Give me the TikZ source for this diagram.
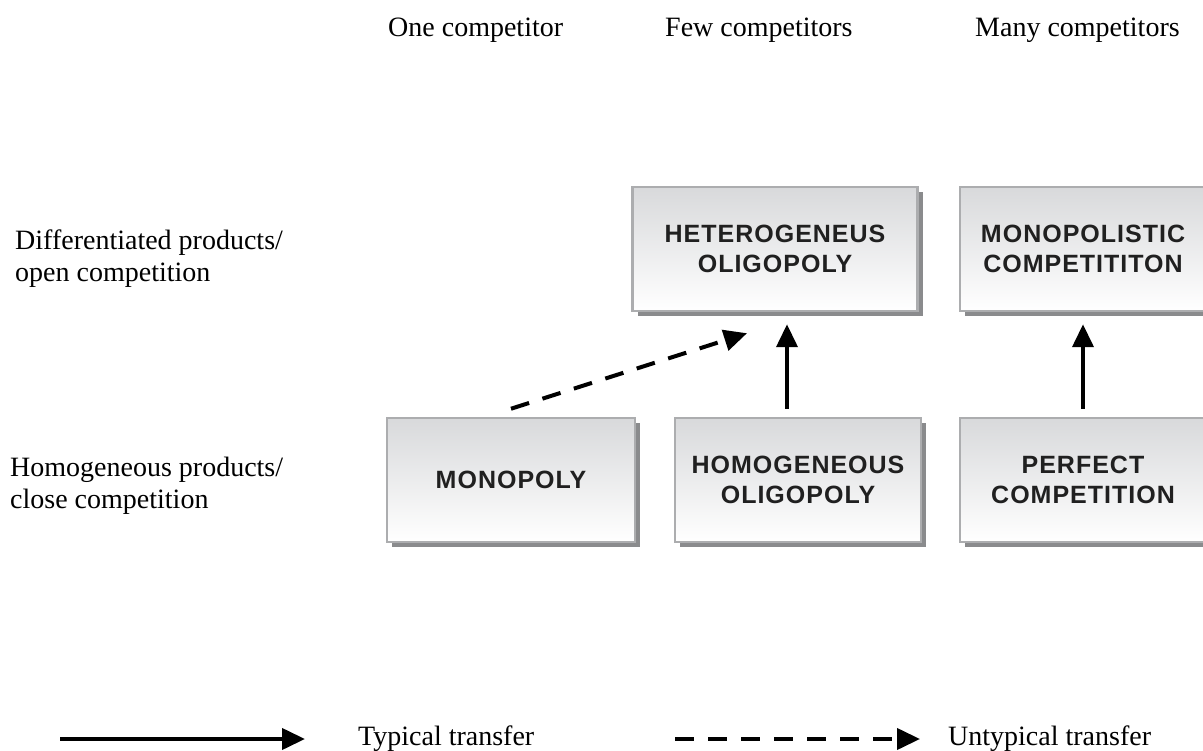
\documentclass[tikz,border=0pt]{standalone}
\usepackage{fontspec}
\usepackage{xcolor}
\usepackage{tikz}
\setmainfont{Liberation Serif}
\newfontfamily\boxfont[LetterSpace=4]{Liberation Sans}
\usetikzlibrary{arrows.meta,shadows}
\definecolor{boxline}{RGB}{172,173,175}
\definecolor{boxtop}{RGB}{216,217,219}
\definecolor{boxshadow}{RGB}{138,139,141}
\definecolor{boxtext}{RGB}{32,32,32}

\begin{document}
\begin{tikzpicture}[x=1pt, y=-1pt,
  market/.style={draw=boxline, line width=2.5pt, top color=boxtop, bottom color=white,
    minimum height=124pt, inner sep=0pt, align=center, text=boxtext,
    font=\boxfont\bfseries\fontsize{25}{30}\selectfont,
    drop shadow={shadow xshift=5pt, shadow yshift=-5pt, fill=boxshadow, opacity=1}},
  lbl/.style={anchor=west, align=left, inner sep=0pt, font=\fontsize{28}{32}\selectfont},
  typical/.style={line width=4pt, -{Triangle[length=23pt,width=21pt]}},
  untypical/.style={typical, dash pattern=on 19pt off 14pt}]
\useasboundingbox (0,0) rectangle (1203,751);
%\draw[step=50, gray!30] (0,0) grid (1203,751);
    % column and row headings
    \node[lbl] (one)  at (388,30) {One competitor};
    \node[lbl] (few)  at (665,30) {Few competitors};
    \node[lbl] (many) at (975,30) {Many competitors};
    \node[lbl] (diff) at (15,259) {Differentiated products/\\open competition};
    \node[lbl] (homo) at (10,486) {Homogeneous products/\\close competition};
    % markets
    \node[market, minimum width=285pt] (hetoli)   at (775,249) {HETEROGENEUS\\OLIGOPOLY};
    \node[market, minimum width=246pt] (monocomp) at (1083,249) {MONOPOLISTIC\\COMPETITITON};
    \node[market, minimum width=248pt] (mono)     at (511,480) {MONOPOLY};
    \node[market, minimum width=246pt] (homoli)   at (798,480) {HOMOGENEOUS\\OLIGOPOLY};
    \node[market, minimum width=246pt] (perfcomp) at (1083,480) {PERFECT\\COMPETITION};
    % transfers
    \draw[typical] ([xshift=-11pt,yshift=8pt]homoli.north) -- ([xshift=12pt,yshift=-12pt]hetoli.south);
    \draw[typical] ([yshift=8pt]perfcomp.north) -- ([yshift=-12pt]monocomp.south);
    \draw[untypical] ([yshift=8pt]mono.north) -- ([xshift=-28pt,yshift=-21pt]hetoli.south);
    % legend
    \node[lbl] (typ)   at (358,739) {Typical transfer};
    \node[lbl] (untyp) at (948,739) {Untypical transfer};
    \coordinate (typstart) at (60,0 |- typ.west);
    \coordinate (untypstart) at (675,0 |- untyp.west);
    \draw[typical] (typstart) -- ([xshift=-53pt]typ.west);
    \draw[untypical] (untypstart) -- ([xshift=-28pt]untyp.west);
\end{tikzpicture}
\end{document}
